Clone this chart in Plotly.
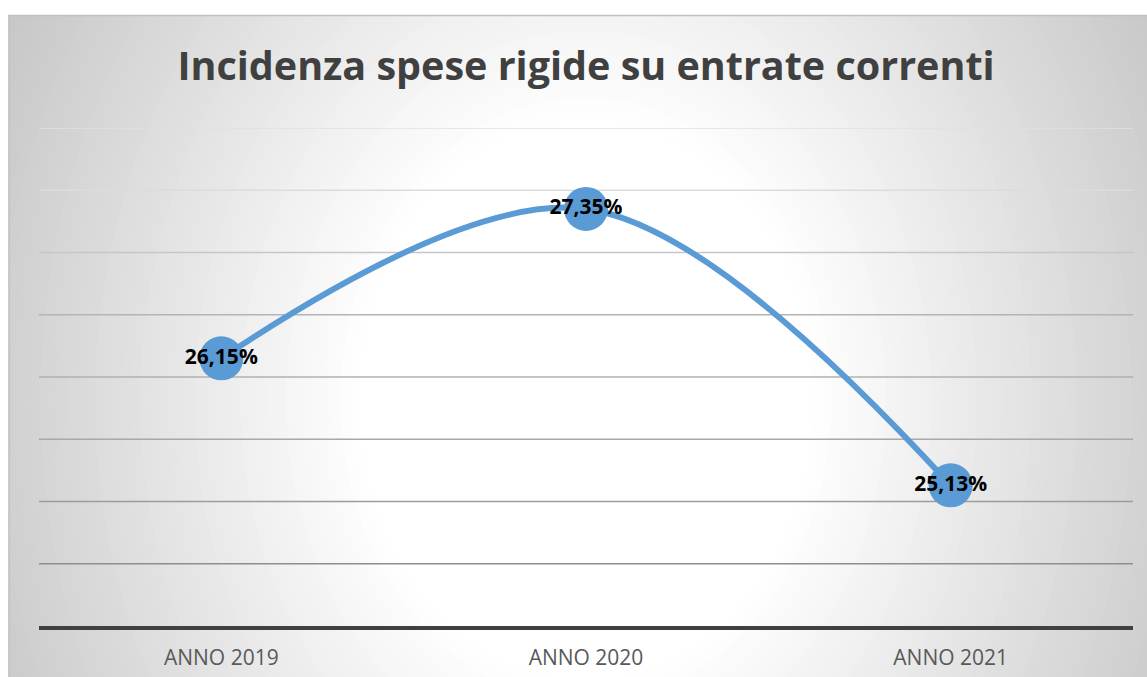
import plotly.graph_objects as go

# dati
anni = ["ANNO 2019", "ANNO 2020", "ANNO 2021"]
incidenza = [26.15, 27.35, 25.13]
etichette = ["26,15%", "27,35%", "25,13%"]
griglia = [24.5, 25.0, 25.5, 26.0, 26.5, 27.0, 27.5, 28.0]
colori_griglia = ["#8e8e8e", "#9c9c9c", "#a8a8a8", "#b0b0b0", "#b4b4b4", "#c6c6c6", "#dcdcdc", "#e0e0e0"]

W, H = 1147, 677
L, R, T, B = 38.5, 13.5, 128, 51
pw, ph = W - L - R, H - T - B


def px_x(x):
    return (x - L) / pw


def px_y(y):
    return (H - B - y) / ph


shapes = []

# sfondo con sfumatura radiale (ellissi concentriche)
shapes.append(dict(type="rect", xref="paper", yref="paper",
                   x0=px_x(8), x1=px_x(W + 5), y0=px_y(15), y1=px_y(H + 5),
                   fillcolor="#c8c8c8", line_width=0, layer="below"))
cx, cy, a, b, r0 = 586, 400, 650, 800, 0.35
steps = 50
for i in range(steps + 1):
    r = 1.05 - (1.05 - r0) * i / steps
    t = min(1.0, max(0.0, (r - r0) / (1 - r0)))
    c = int(round(255 - 55 * t))
    shapes.append(dict(type="circle", xref="paper", yref="paper",
                       x0=px_x(cx - a * r), x1=px_x(cx + a * r),
                       y0=px_y(cy + b * r), y1=px_y(cy - b * r),
                       fillcolor=f"rgb({c},{c},{c})", line_width=0, layer="below"))

# margini bianchi fuori dal riquadro
shapes.append(dict(type="rect", xref="paper", yref="paper",
                   x0=px_x(-50), x1=px_x(W + 50), y0=px_y(15), y1=px_y(-100),
                   fillcolor="white", line_width=0, layer="below"))
shapes.append(dict(type="rect", xref="paper", yref="paper",
                   x0=px_x(-50), x1=px_x(8), y0=px_y(H + 50), y1=px_y(-100),
                   fillcolor="white", line_width=0, layer="below"))
# bordo del riquadro
shapes.append(dict(type="line", xref="paper", yref="paper",
                   x0=px_x(8), x1=px_x(W + 5), y0=px_y(15.5), y1=px_y(15.5),
                   line=dict(color="#c0c0c0", width=1.5), layer="below"))
shapes.append(dict(type="line", xref="paper", yref="paper",
                   x0=px_x(8.5), x1=px_x(8.5), y0=px_y(15), y1=px_y(H + 5),
                   line=dict(color="#c0c0c0", width=1.5), layer="below"))

# griglia orizzontale
for g, col in zip(griglia, colori_griglia):
    shapes.append(dict(type="line", xref="paper", yref="y",
                       x0=0, x1=1, y0=g, y1=g,
                       line=dict(color=col, width=1.3), layer="below"))

fig = go.Figure()
fig.add_trace(go.Scatter(
    x=anni,
    y=incidenza,
    mode="lines+markers+text",
    line=dict(color="#5b9bd5", width=6, shape="spline", smoothing=1),
    marker=dict(color="#5b9bd5", size=44),
    text=etichette,
    textposition="middle center",
    textfont=dict(family="Open Sans", size=21, color="black", weight="bold"),
    cliponaxis=False,
    hoverinfo="skip",
))

fig.update_layout(
    width=W,
    height=H,
    margin=dict(l=L, r=R, t=T, b=B, autoexpand=False),
    paper_bgcolor="white",
    plot_bgcolor="rgba(0,0,0,0)",
    showlegend=False,
    shapes=shapes,
    title=dict(
        text="<b>Incidenza spese rigide su entrate correnti</b>",
        x=586 / W,
        xanchor="center",
        y=1 - 66 / H,
        yanchor="middle",
        font=dict(family="Open Sans", size=39.5, color="#404040"),
    ),
    xaxis=dict(
        range=[-0.5, 2.5],
        automargin=False,
        showgrid=False,
        zeroline=False,
        showline=True,
        linecolor="#404040",
        linewidth=4,
        ticks="outside",
        ticklen=10,
        tickcolor="rgba(0,0,0,0)",
        tickfont=dict(family="Open Sans", size=21, color="#595959"),
    ),
    yaxis=dict(
        range=[24, 28],
        automargin=False,
        showgrid=False,
        zeroline=False,
        showticklabels=False,
        showline=False,
    ),
)

fig.write_html("out.html", config={"displayModeBar": False},
               post_script="document.body.style.margin='0';")
